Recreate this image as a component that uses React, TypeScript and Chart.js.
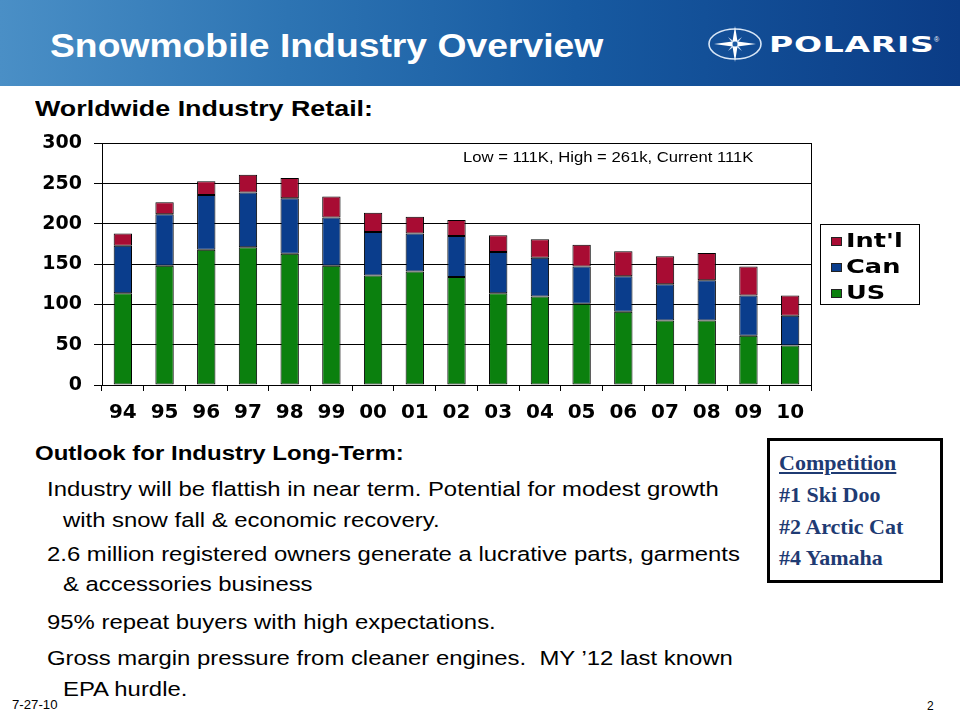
import React, { useEffect, useRef } from "react";
import { Chart, registerables } from "chart.js";

Chart.register(...registerables);

// ---- data ----
const years = ["94", "95", "96", "97", "98", "99", "00", "01", "02", "03", "04", "05", "06", "07", "08", "09", "10"];
const usValues = [114, 148, 168, 171, 163, 148, 136, 141, 134, 114, 110, 101, 91, 80, 80, 61, 49];
const canValues = [59, 64, 68, 68, 69, 60, 54, 47, 51, 51, 48, 46, 44, 45, 50, 50, 37];
const intlValues = [15, 15, 17, 22, 25, 26, 24, 21, 20, 21, 23, 27, 31, 35, 34, 36, 25];
const seriesLabels = ["US", "Can", "Int'l"];
const seriesColors = ["#0b800e", "#0a3d8c", "#a80c33"];
const yMin = 0;
const yMax = 300;
const yStep = 50;
const noteText = "Low = 111K, High = 261k, Current 111K";

const TICK_FONT = '"DejaVu Sans", "Liberation Sans", sans-serif';

const framePlugin = {
  id: "frame",
  afterDatasetsDraw(chart: any) {
    const { ctx, chartArea: a } = chart;
    ctx.save();
    ctx.strokeStyle = "#000";
    ctx.lineWidth = 1;
    const x = Math.round(a.right) + 0.5;
    ctx.beginPath();
    ctx.moveTo(x, Math.round(a.top));
    ctx.lineTo(x, Math.round(a.bottom) + 6);
    ctx.stroke();
    ctx.restore();
  },
};

const notePlugin = {
  id: "note",
  afterDraw(chart: any) {
    const { ctx, chartArea: a } = chart;
    ctx.save();
    ctx.font = '15px "Liberation Sans", Arial, sans-serif';
    ctx.fillStyle = "#000";
    ctx.textBaseline = "middle";
    ctx.textAlign = "left";
    ctx.translate(a.left + 361, a.top + 14.5);
    ctx.scale(1.11, 1);
    ctx.fillText(noteText, 0, 0);
    ctx.restore();
  },
};

const boxLegendPlugin = {
  id: "boxLegend",
  afterDraw(chart: any) {
    const { ctx, chartArea: a } = chart;
    const W = 99;
    const H = 80;
    const L = Math.round(a.right) + 9;
    const T = Math.round((a.top + a.bottom) / 2 - H / 2);
    ctx.save();
    ctx.strokeStyle = "#000";
    ctx.lineWidth = 1;
    ctx.strokeRect(L + 0.5, T + 0.5, W, H);
    const ds = chart.data.datasets.slice().reverse();
    ctx.font = "bold 19px " + TICK_FONT;
    ctx.textBaseline = "middle";
    ctx.textAlign = "left";
    ds.forEach((d: any, i: number) => {
      const cy = T + 17 + i * 26;
      ctx.fillStyle = d.backgroundColor;
      ctx.fillRect(L + 11, cy - 4, 11, 9);
      ctx.strokeStyle = "#222";
      ctx.strokeRect(L + 11.5, cy - 3.5, 10, 8);
      ctx.fillStyle = "#000";
      ctx.save();
      ctx.translate(L + 26, cy + 1);
      ctx.scale(1.35, 1);
      ctx.fillText(d.label, 0, 0);
      ctx.restore();
    });
    ctx.restore();
  },
};

function Txt(props: any) {
  const { x, base, size, bold, color, family, sx, style, children } = props;
  return (
    <div
      style={{
        position: "absolute",
        left: x,
        top: base - 0.83 * size,
        fontSize: size,
        lineHeight: 1,
        fontWeight: bold ? 700 : 400,
        color: color || "#000",
        whiteSpace: "nowrap",
        fontFamily: family || '"Liberation Sans", Arial, sans-serif',
        transform: sx ? `scaleX(${sx})` : undefined,
        transformOrigin: "left center",
        ...(style || {}),
      }}
    >
      {children}
    </div>
  );
}

export default function App() {
  const ref = useRef<HTMLCanvasElement>(null);

  useEffect(() => {
    const values = [usValues, canValues, intlValues];
    const chart = new Chart(ref.current as HTMLCanvasElement, {
      type: "bar",
      data: {
        labels: years,
        datasets: values.map((v, i) => ({
          label: seriesLabels[i],
          data: v,
          backgroundColor: seriesColors[i],
          borderColor: "#000",
          borderWidth: 1,
          borderSkipped: false,
          barPercentage: 0.44,
          categoryPercentage: 1,
        })),
      },
      options: {
        responsive: false,
        animation: false,
        layout: { padding: { top: 18, right: 149, left: 0, bottom: 0 } },
        plugins: {
          legend: { display: false },
          tooltip: { enabled: false },
          title: { display: false },
        },
        scales: {
          x: {
            stacked: true,
            offset: true,
            grid: {
              display: true,
              drawOnChartArea: false,
              drawTicks: true,
              tickLength: 6,
              color: "#000",
              offset: true,
            },
            border: { display: true, color: "#000", width: 1 },
            ticks: {
              color: "#000",
              font: { family: TICK_FONT, weight: "bold", size: 20 },
              padding: 10,
              maxRotation: 0,
              autoSkip: false,
            },
            afterFit: (s: any) => {
              s.height = 45;
            },
          },
          y: {
            stacked: true,
            min: yMin,
            max: yMax,
            grid: { color: "#000", tickLength: 8, lineWidth: 1 },
            border: { display: true, color: "#000", width: 1 },
            ticks: {
              stepSize: yStep,
              color: "#000",
              font: { family: TICK_FONT, weight: "bold", size: 19 },
              padding: 12,
            },
            afterFit: (s: any) => {
              s.width = 102;
            },
          },
        },
      } as any,
      plugins: [framePlugin, notePlugin, boxLegendPlugin],
    });
    return () => chart.destroy();
  }, []);

  const body = { size: 20.5, sx: 1.165 };
  const serif = '"Liberation Serif", "Times New Roman", serif';

  return (
    <div
      style={{
        position: "fixed",
        left: 0,
        top: 0,
        width: 960,
        height: 720,
        background: "#fff",
        overflow: "hidden",
        fontFamily: '"Liberation Sans", Arial, sans-serif',
      }}
    >
      <div
        style={{
          position: "absolute",
          left: 0,
          top: 0,
          width: 960,
          height: 86,
          background: "linear-gradient(90deg, #4a8fc6 0%, #2d74b3 30%, #175aa1 60%, #0b3c86 100%)",
        }}
      />
      <Txt x={50} base={56} size={33} bold color="#fff" sx={1.13}>
        Snowmobile Industry Overview
      </Txt>
      <svg style={{ position: "absolute", left: 706, top: 24 }} width={58} height={40}>
        <ellipse cx={29} cy={20} rx={26} ry={15} fill="none" stroke="#d8e6f6" strokeWidth={1.6} />
        <polygon points="29,2 31.5,17.5 50,20 31.5,22.5 29,38 26.5,22.5 8,20 26.5,17.5" fill="#fff" />
        <polygon points="22,13 30,19 36,27 28,21" fill="#cfe0f3" />
        <polygon points="36,13 30,21 22,27 28,19" fill="#cfe0f3" />
        <circle cx={29} cy={20} r={2.5} fill="#1b5aa3" />
      </svg>
      <Txt x={769} base={52} size={22} bold color="#fff" family='"DejaVu Sans", sans-serif' sx={1.5} style={{ letterSpacing: "0.5px" }}>
        POLARIS
      </Txt>
      <Txt x={934} base={42} size={7} color="#fff">
        ®
      </Txt>

      <Txt x={35} base={116} size={22} bold sx={1.22}>
        Worldwide Industry Retail:
      </Txt>

      <div style={{ position: "absolute", left: 0, top: 120, width: 960, height: 310 }}>
        <canvas ref={ref} width={960} height={310} style={{ width: 960, height: 310, display: "block" }} />
      </div>

      <Txt x={35} base={460} size={20} bold sx={1.2}>
        Outlook for Industry Long-Term:
      </Txt>
      <Txt x={47} base={496} {...body}>
        Industry will be flattish in near term. Potential for modest growth
      </Txt>
      <Txt x={63} base={527} {...body}>
        with snow fall &amp; economic recovery.
      </Txt>
      <Txt x={47} base={561} {...body}>
        2.6 million registered owners generate a lucrative parts, garments
      </Txt>
      <Txt x={63} base={591} {...body}>
        &amp; accessories business
      </Txt>
      <Txt x={47} base={629} {...body}>
        95% repeat buyers with high expectations.
      </Txt>
      <Txt x={47} base={665} {...body}>
        Gross margin pressure from cleaner engines.&nbsp; MY ’12 last known
      </Txt>
      <Txt x={63} base={696} {...body}>
        EPA hurdle.
      </Txt>

      <div
        style={{
          position: "absolute",
          left: 767,
          top: 438,
          width: 176,
          height: 145,
          border: "3px solid #000",
          boxSizing: "border-box",
        }}
      />
      <Txt x={779} base={470} size={22} bold color="#1f3b73" family={serif} style={{ textDecoration: "underline" }}>
        Competition
      </Txt>
      <Txt x={779} base={502} size={22} bold color="#1f3b73" family={serif}>
        #1 Ski Doo
      </Txt>
      <Txt x={779} base={534} size={22} bold color="#1f3b73" family={serif}>
        #2 Arctic Cat
      </Txt>
      <Txt x={779} base={565} size={22} bold color="#1f3b73" family={serif}>
        #4 Yamaha
      </Txt>

      <Txt x={12} base={709} size={12} sx={1.1}>
        7-27-10
      </Txt>
      <Txt x={927} base={710} size={12}>
        2
      </Txt>
    </div>
  );
}
